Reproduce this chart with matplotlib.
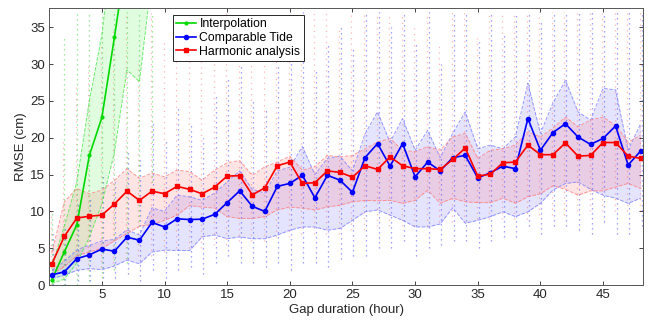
import numpy as np
import matplotlib
matplotlib.use("Agg")
import matplotlib.pyplot as plt

plt.rcParams['font.family'] = ['Liberation Sans', 'DejaVu Sans']

hours = list(range(1, 49))

# Comparable Tide (blue): mean, band upper/lower
ct_mean = [1.4, 1.8, 3.6, 4.1, 4.9, 4.6, 6.5, 6.1, 8.5, 7.9, 9.0, 8.9, 8.95, 9.6, 11.2, 12.8,
           10.7, 10.0, 13.4, 13.8, 14.9, 11.85, 14.9, 14.25, 12.6, 17.3, 19.2, 16.15, 19.2, 14.7, 16.7, 15.5,
           17.3, 17.6, 14.55, 15.25, 16.15, 15.8, 22.6, 18.3, 20.7, 21.9, 20.1, 19.1, 19.9, 21.6, 16.3, 18.2]
ct_upper = [2.0, 3.2, 4.8, 5.4, 6.0, 6.2, 7.5, 6.8, 10.5, 10.0, 12.2, 12.0, 11.5, 12.5, 14.0, 15.5,
            13.0, 12.5, 15.5, 16.0, 18.8, 15.0, 17.2, 17.5, 15.5, 20.5, 23.5, 19.4, 22.6, 18.3, 21.0, 17.3,
            20.6, 23.5, 18.5, 19.0, 18.5, 20.1, 27.4, 20.6, 24.7, 27.8, 23.5, 22.4, 26.7, 26.5, 18.3, 21.9]
ct_lower = [0.9, 1.35, 2.0, 2.25, 2.1, 2.6, 3.4, 2.9, 4.5, 4.75, 4.7, 4.7, 6.55, 6.8, 6.3, 6.55,
            6.3, 6.3, 6.8, 7.45, 7.9, 7.9, 7.45, 7.7, 8.8, 9.95, 10.2, 9.5, 8.8, 7.9, 7.9, 8.3,
            10.5, 8.4, 8.8, 9.3, 9.95, 9.3, 9.95, 11.1, 12.9, 13.8, 14.0, 13.0, 12.2, 11.8, 11.1, 11.8]

# Harmonic analysis (red)
ha_mean = [2.85, 6.6, 9.1, 9.35, 9.5, 11.0, 12.75, 11.5, 12.75, 12.4, 13.4, 13.0, 12.4, 13.3, 14.8, 14.85,
           12.25, 13.2, 16.2, 16.7, 13.8, 13.9, 15.5, 15.3, 14.65, 16.2, 15.7, 17.4, 16.2, 15.8, 15.8, 15.7,
           17.05, 18.6, 14.8, 15.05, 16.6, 16.7, 19.0, 17.7, 17.7, 19.3, 17.5, 17.6, 19.35, 19.35, 17.5, 17.2]
ha_upper = [4.3, 11.3, 13.1, 12.4, 12.9, 14.2, 15.8, 14.5, 15.2, 14.7, 15.6, 15.4, 14.25, 15.6, 16.6, 16.9,
            14.9, 16.05, 16.7, 17.5, 15.6, 16.05, 17.6, 17.4, 17.6, 18.5, 19.4, 19.9, 18.3, 18.1, 18.8, 18.3,
            20.1, 20.6, 17.2, 18.3, 18.5, 19.0, 20.8, 20.1, 21.3, 22.8, 21.5, 22.4, 22.8, 21.7, 19.4, 20.35]
ha_lower = [1.5, 2.5, 4.0, 4.5, 5.0, 6.0, 7.0, 8.0, 8.2, 8.8, 9.5, 10.8, 10.6, 10.45, 9.3, 9.05,
            9.05, 9.3, 10.2, 10.6, 10.45, 10.2, 10.6, 10.85, 11.3, 11.5, 11.45, 11.5, 11.1, 11.5, 12.9, 11.1,
            11.8, 11.3, 11.2, 11.2, 11.8, 11.1, 12.0, 12.4, 13.5, 13.0, 12.2, 12.8, 12.8, 13.3, 13.8, 13.1]

# Interpolation (green), only short gaps visible
ip_hours = [1, 2, 3, 4, 5, 6, 7, 8, 9]
ip_mean = [0.7, 4.5, 8.2, 17.6, 22.75, 33.6, 45.0, 55.0, 65.0]
ip_upper = [2.5, 8.0, 14.0, 25.0, 34.0, 48.0, 60.0, 70.0, 80.0]
ip_lower = [0.2, 0.8, 3.0, 6.5, 11.0, 18.0, 29.2, 27.6, 42.0]

# per-hour scatter extent (individual station RMSE columns)
ct_col_min = [0, 0, 0.5, 0.5, 1, 1, 1.5, 0.5, 2, 1, 2, 2.5, 1.5, 3, 4, 3, 3, 2.5, 3, 2, 3, 3, 2.5, 3.5,
              4, 4, 5, 5, 6, 4, 5, 5.5, 6, 6, 5, 6, 6.5, 6.5, 8, 7, 8, 8, 7.5, 7, 8.5, 7, 7, 8]
ct_col_max = [7, 8, 11, 12, 15, 14, 18, 17, 22, 20, 24, 22, 20, 26, 28, 30, 25, 24, 30, 32, 37, 29, 33, 35,
              32, 37, 37, 35, 37, 33, 37, 30, 37, 37, 33, 37, 34, 37, 37, 36, 37, 37, 37, 37, 37, 37, 37, 37]
ha_col_min = [0, 1, 1.5, 2, 2.5, 3, 3.5, 4, 4, 4.5, 5, 5, 5, 5.5, 5.5, 6, 6, 6, 6.5, 6.5, 7, 7, 7, 7,
              7.5, 7.5, 8, 8, 8, 8, 8, 8.5, 8.5, 8.5, 9, 9, 9, 9, 9, 9.5, 9.5, 9.5, 10, 10, 10, 10, 10, 10]
ha_col_max = [10, 20, 27, 30, 33, 35, 37, 30, 37, 33, 37, 35, 37, 34, 37, 37, 33, 37, 37, 37, 32, 37, 37, 35,
              37, 37, 37, 37, 37, 35, 37, 33, 37, 37, 34, 37, 37, 37, 37, 37, 37, 37, 37, 37, 37, 37, 37, 37]
ip_col_min = [0, 0, 0, 0.5, 1, 2, 3, 8, 14]
ip_col_max = [10, 34, 37, 37, 37, 37, 37, 37, 37]

fig = plt.figure(figsize=(6.49, 3.27), dpi=100)
ax = fig.add_axes([0.0755, 0.128, 0.9155, 0.8475])

blue = (0, 0, 1)
red = (1, 0, 0)
green = (0, 0.85, 0)

h = np.array(hours, dtype=float)
hi = np.array(ip_hours, dtype=float)

# scatter columns drawn as dotted vertical segments
ax.vlines(h - 0.08, ha_col_min, ha_col_max, colors=[(1, 0.3, 0.3, 0.4)], linestyles=(0, (1, 3.5)), linewidth=0.9)
ax.vlines(h + 0.08, ct_col_min, ct_col_max, colors=[(0.15, 0.15, 1, 0.55)], linestyles=(0, (1, 3)), linewidth=0.9)
ax.vlines(hi, ip_col_min, ip_col_max, colors=[(0.1, 0.8, 0.1, 0.55)], linestyles=(0, (1, 3)), linewidth=0.9)

# bands
ax.fill_between(hi, ip_lower, ip_upper, color=(0.2, 0.95, 0.2), alpha=0.15, lw=0)
ax.plot(hi, ip_upper, '--', color=(0.3, 0.9, 0.3), lw=0.7, alpha=0.8)
ax.plot(hi, ip_lower, '--', color=(0.3, 0.9, 0.3), lw=0.7, alpha=0.8)

ax.fill_between(h, ct_lower, ct_upper, color=(0.3, 0.3, 1), alpha=0.15, lw=0)
ax.plot(h, ct_upper, '--', color=(0.5, 0.5, 1), lw=0.7, alpha=0.8)
ax.plot(h, ct_lower, '--', color=(0.5, 0.5, 1), lw=0.7, alpha=0.8)

ax.fill_between(h, ha_lower, ha_upper, color=(1, 0.3, 0.3), alpha=0.15, lw=0)
ax.plot(h, ha_upper, '--', color=(1, 0.5, 0.5), lw=0.7, alpha=0.8)
ax.plot(h, ha_lower, '--', color=(1, 0.5, 0.5), lw=0.7, alpha=0.8)

# mean lines
ax.plot(hi, ip_mean, '-', color=green, lw=1.2, marker='.', ms=4, label='Interpolation')
ax.plot(h, ct_mean, '-', color=blue, lw=1.2, marker='o', ms=3, label='Comparable Tide')
ax.plot(h, ha_mean, '-', color=red, lw=1.2, marker='s', ms=3, label='Harmonic analysis')

ax.set_xlim(0.78, 48.2)
ax.set_ylim(0, 37.6)
ax.set_xticks([5, 10, 15, 20, 25, 30, 35, 40, 45])
ax.set_yticks([0, 5, 10, 15, 20, 25, 30, 35])
ax.tick_params(direction='in', top=True, right=True, labelsize=9.5, length=3, width=0.6,
               colors='#262626', pad=3)
for s in ax.spines.values():
    s.set_color('#555555')
    s.set_linewidth(0.7)
ax.set_xlabel('Gap duration (hour)', fontsize=9.5, color='#262626', labelpad=2)
ax.set_ylabel('RMSE (cm)', fontsize=9.5, color='#262626', labelpad=2)

leg = ax.legend(loc='upper left', bbox_to_anchor=(0.209, 0.975), fontsize=8.8, frameon=True,
                fancybox=False, edgecolor='#262626', framealpha=1, borderpad=0.25,
                handlelength=1.6, handletextpad=0.3, labelspacing=0.15, borderaxespad=0)
leg.get_frame().set_linewidth(0.7)

fig.savefig('out.png', dpi=100)
